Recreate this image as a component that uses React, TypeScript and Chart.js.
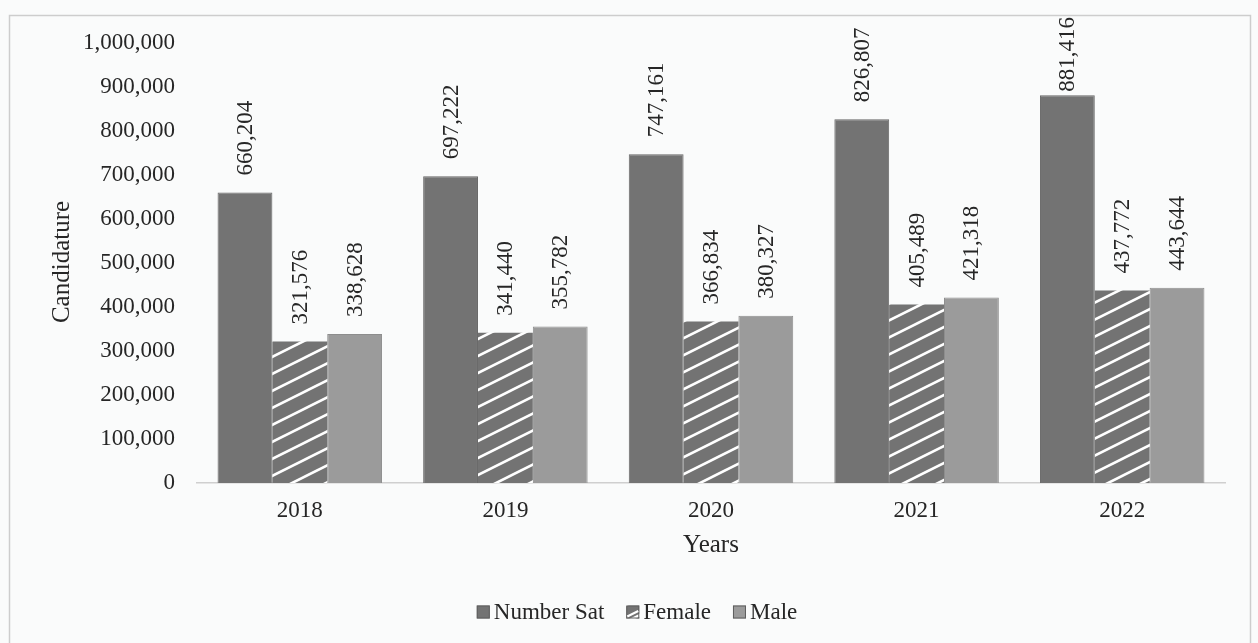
import React, { useEffect, useRef } from "react";
import { Chart, registerables } from "chart.js";

Chart.register(...registerables);

const years = ["2018", "2019", "2020", "2021", "2022"];
const numberSat = [660204, 697222, 747161, 826807, 881416];
const female = [321576, 341440, 366834, 405489, 437772];
const male = [338628, 355782, 380327, 421318, 443644];
const seriesNames = ["Number Sat", "Female", "Male"];
const yMin = 0;
const yMax = 1000000;
const yStep = 100000;
const xTitle = "Years";
const yTitle = "Candidature";

const FONT_FAMILY = "'Liberation Serif', 'Times New Roman', serif";
const TEXT = "#262626";
const DARK = "#737373";
const LIGHT = "#9b9b9b";
const BG = "#fafbfb";

function makeHatch(base: string): CanvasPattern | string {
  const c = document.createElement("canvas");
  c.width = 34;
  c.height = 17;
  const g = c.getContext("2d");
  if (!g) return base;
  g.fillStyle = base;
  g.fillRect(0, 0, 34, 17);
  g.strokeStyle = "#ffffff";
  g.lineWidth = 2.6;
  for (const dy of [-17, 0, 17]) {
    g.beginPath();
    g.moveTo(-2, 18 + dy);
    g.lineTo(36, -1 + dy);
    g.stroke();
  }
  const p = g.createPattern(c, "repeat");
  return p || base;
}

const fmt = (v: number) => Number(v).toLocaleString("en-US");

export default function App() {
  const ref = useRef<HTMLCanvasElement | null>(null);

  useEffect(() => {
    const canvas = ref.current;
    if (!canvas) return;
    const hatch = makeHatch(DARK);

    const decor = {
      id: "decor",
      beforeDraw(chart: any) {
        const ctx = chart.ctx;
        ctx.save();
        ctx.fillStyle = BG;
        ctx.fillRect(0, 0, chart.width, chart.height);
        ctx.strokeStyle = "#cdcdcd";
        ctx.lineWidth = 1.5;
        ctx.strokeRect(9.5, 15.5, 1241, 700);
        ctx.restore();
      },
      afterDraw(chart: any) {
        const ctx = chart.ctx;
        const area = chart.chartArea;
        ctx.save();
        // data labels
        ctx.font = `23px ${FONT_FAMILY}`;
        ctx.fillStyle = TEXT;
        chart.data.datasets.forEach((ds: any, di: number) => {
          const meta = chart.getDatasetMeta(di);
          meta.data.forEach((bar: any, i: number) => {
            const txt = fmt(ds.data[i]);
            const L = ctx.measureText(txt).width;
            let start = bar.y - 17;
            if (start - L < 17) start = 17 + L;
            ctx.save();
            ctx.translate(bar.x, start);
            ctx.rotate(-Math.PI / 2);
            ctx.textAlign = "left";
            ctx.textBaseline = "middle";
            ctx.fillText(txt, 0, 1);
            ctx.restore();
          });
        });
        // axis titles
        ctx.font = `25px ${FONT_FAMILY}`;
        ctx.textAlign = "center";
        ctx.textBaseline = "middle";
        ctx.fillText(xTitle, (area.left + area.right) / 2, 545);
        ctx.save();
        ctx.translate(62, 262);
        ctx.rotate(-Math.PI / 2);
        ctx.fillText(yTitle, 0, 0);
        ctx.restore();
        // legend
        ctx.font = `23px ${FONT_FAMILY}`;
        const box = 13;
        const gapBoxText = 4;
        const gapItems = 22;
        const widths = seriesNames.map((n) => ctx.measureText(n).width);
        const total =
          widths.reduce((a: number, w: number) => a + w + box + gapBoxText, 0) +
          gapItems * (seriesNames.length - 1);
        let x = 637 - total / 2;
        const ly = 612;
        ctx.textAlign = "left";
        chart.data.datasets.forEach((ds: any, di: number) => {
          ctx.fillStyle = ds.backgroundColor;
          ctx.fillRect(x, ly - box / 2, box, box);
          ctx.strokeStyle = "#5e5e5e";
          ctx.lineWidth = 1;
          ctx.strokeRect(x + 0.5, ly - box / 2 + 0.5, box - 1, box - 1);
          if (di === 1) {
            ctx.strokeStyle = "#ffffff";
            ctx.lineWidth = 2;
            ctx.beginPath();
            ctx.moveTo(x + 1, ly + box / 2 - 2);
            ctx.lineTo(x + box - 1, ly - 1);
            ctx.stroke();
          }
          x += box + gapBoxText;
          ctx.fillStyle = TEXT;
          ctx.fillText(seriesNames[di], x, ly + 1);
          x += widths[di] + gapItems;
        });
        ctx.restore();
      },
    };

    const chart = new Chart(canvas, {
      type: "bar",
      data: {
        labels: years,
        datasets: [
          {
            label: seriesNames[0],
            data: numberSat,
            backgroundColor: DARK,
            borderColor: "#686868",
            borderWidth: 1,
          },
          {
            label: seriesNames[1],
            data: female,
            backgroundColor: hatch as any,
            borderColor: "#686868",
            borderWidth: 0,
          },
          {
            label: seriesNames[2],
            data: male,
            backgroundColor: LIGHT,
            borderColor: "#8d8d8d",
            borderWidth: 1,
          },
        ],
      },
      options: {
        animation: false,
        responsive: false,
        devicePixelRatio: 1,
        events: [],
        datasets: {
          bar: { categoryPercentage: 0.8, barPercentage: 1.0 },
        },
        layout: { padding: { left: 0, right: 33, top: 43, bottom: 0 } },
        plugins: {
          legend: { display: false },
          tooltip: { enabled: false },
          title: { display: false },
        },
        scales: {
          x: {
            grid: { display: false, drawTicks: false },
            border: { display: true, color: "#cfcfcf", width: 1.5 },
            ticks: {
              font: { family: FONT_FAMILY, size: 23 },
              color: TEXT,
              padding: 14,
            },
            afterFit: (s: any) => {
              s.height = 160;
            },
          },
          y: {
            min: yMin,
            max: yMax,
            grid: { display: false, drawTicks: false },
            border: { display: false },
            ticks: {
              stepSize: yStep,
              padding: 22,
              font: { family: FONT_FAMILY, size: 23 },
              color: TEXT,
              callback: (v: any) => fmt(v),
            },
            afterFit: (s: any) => {
              s.width = 197;
            },
          },
        },
      },
      plugins: [decor],
    } as any);

    return () => chart.destroy();
  }, []);

  return (
    <div style={{ position: "fixed", left: 0, top: 0, width: 1258, height: 643, background: BG }}>
      <canvas ref={ref} width={1258} height={643} style={{ display: "block", width: 1258, height: 643 }} />
    </div>
  );
}
